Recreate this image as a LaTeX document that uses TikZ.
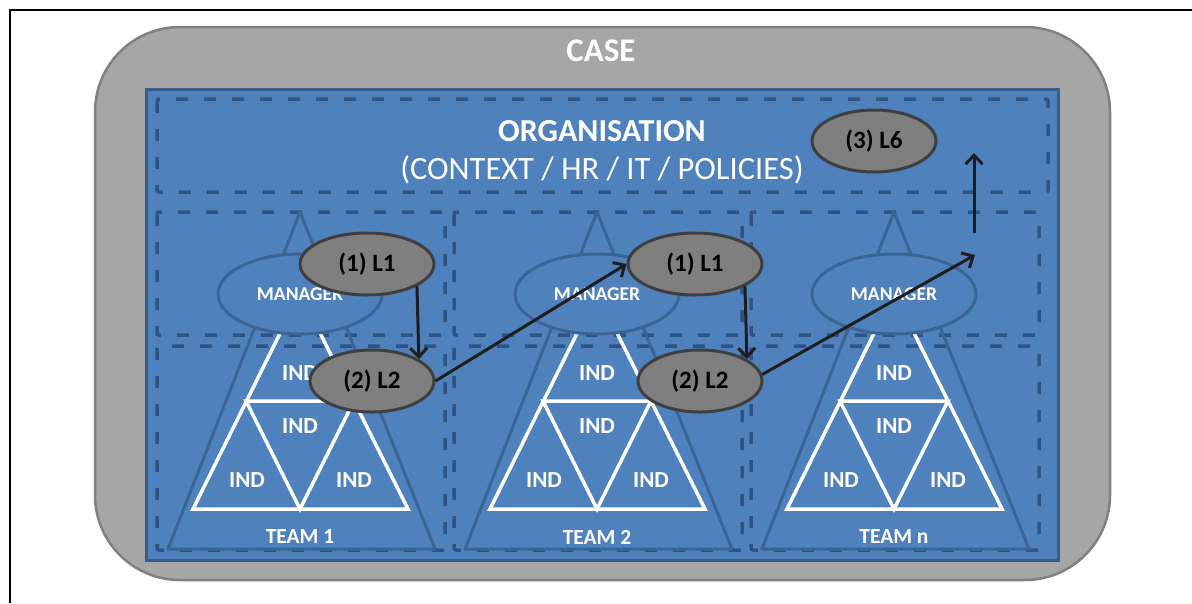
\documentclass[tikz,border=0pt]{standalone}
\usepackage{fontspec}
\setmainfont{Carlito}
\usetikzlibrary{arrows.meta,positioning,shapes}

\definecolor{casegray}{HTML}{A6A6A6}
\definecolor{caseline}{HTML}{808080}
\definecolor{orgblue}{HTML}{4F81BD}
\definecolor{orgline}{HTML}{385D8A}
\definecolor{dashblue}{HTML}{2F5383}
\definecolor{teamline}{HTML}{3A6496}
\definecolor{lvlgray}{HTML}{7F7F7F}
\definecolor{lvlline}{HTML}{3F3F3F}
\definecolor{flowblack}{HTML}{1E1E1E}

\newcommand{\fs}[1]{\fontsize{#1}{#1}\selectfont}

\begin{document}
\begin{tikzpicture}[x=1pt,y=-1pt,
  dashbox/.style={draw=dashblue,line width=3.5pt,dash pattern=on 12pt off 16pt,rounded corners=2pt},
  mgr/.style={draw=teamline,ellipse,fill=orgblue,line width=3pt,minimum width=164pt,minimum height=80pt,inner sep=0pt,text=white,font=\bfseries\fs{19.5}},
  ind/.style={text=white,font=\bfseries\fs{23}},
  lvl/.style={draw=lvlline,ellipse,fill=lvlgray,line width=3pt,minimum width=124pt,minimum height=62pt,inner sep=0pt,font=\bfseries\fs{25}},
  flow/.style={draw=flowblack,line width=3pt,-{Straight Barb[length=9pt,width=17pt]}}]
\useasboundingbox (0,0) rectangle (1192,603);

% frame
\draw[line width=2pt] (10,603) -- (10,10) -- (1192,10);

% case and organisation
\draw[fill=casegray,draw=caseline,line width=2.5pt,rounded corners=85pt] (95,27) rectangle (1110,580);
\node[text=white,font=\bfseries\fs{33}] (case) at (601,51) {CASE};
\draw[fill=orgblue,draw=orgline,line width=3pt] (146,89) rectangle (1058,560);
\draw[dashbox] (157,99) rectangle (1048,192);
\node[text=white,font=\bfseries\fs{32}] (org) at (602,131) {ORGANISATION};
\node[text=white,font=\fs{32.5}] (ctx) at (602,170) {(CONTEXT / HR / IT / POLICIES)};

% teams
\foreach \cx/\t in {300/1,597/2,894/n}{
  \draw[dashbox] (\cx-143,212) rectangle (\cx+145,335);
  \draw[dashbox] (\cx-143,346) rectangle (\cx+145,550);
  \draw[draw=teamline,line width=3pt,line join=round] (\cx,212) -- (\cx+135,549) -- (\cx-132,549) -- cycle;
  \draw[white,line width=3.5pt,line join=miter] (\cx,293) -- (\cx+108,509) -- (\cx-107,509) -- cycle
    (\cx-54,401) -- (\cx+54,401) -- (\cx,509) -- cycle;
  \node[mgr] (mgr\t) at (\cx,294) {MANAGER};
  \node[ind] (indt\t) at (\cx,373) {IND};
  \node[ind] (indm\t) at (\cx,426) {IND};
  \node[ind] (indl\t) at (\cx-53,480) {IND};
  \node[ind] (indr\t) at (\cx+54,480) {IND};
  \node[ind,font=\bfseries\fs{21.5}] (team\t) at (\cx,537) {TEAM \t};
}

% levels
\node[lvl,minimum width=134pt] (l1a) at (367,264) {(1) L1};
\node[lvl] (l2a) at (372,381) {(2) L2};
\node[lvl,minimum width=134pt] (l1b) at (695,264) {(1) L1};
\node[lvl] (l2b) at (700,381) {(2) L2};
\node[lvl] (l6) at (874,141) {(3) L6};

\coordinate (up1) at (975,255);
\coordinate (up2) at (974,233);
\coordinate (up3) at (974,153);

\draw[flow] (l1a.-24) -- (l2a.25);
\draw[flow] (l2a.east) -- (l1b.west);
\draw[flow] (l1b.-24) -- (l2b.25);
\draw[flow] (l2b.6) -- (up1);
\draw[flow] (up2) -- (up3);
\end{tikzpicture}
\end{document}
